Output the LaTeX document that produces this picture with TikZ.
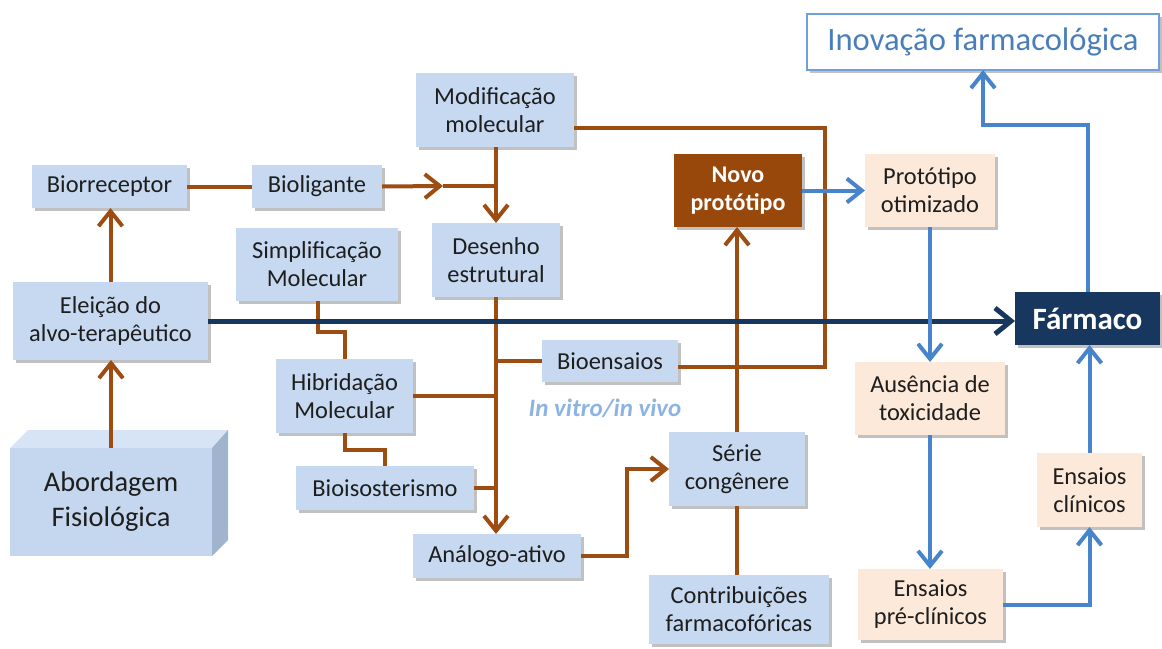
\documentclass[tikz,border=0pt]{standalone}
\usepackage{fontspec}
\setmainfont{Carlito}
\usetikzlibrary{arrows.meta,fit,calc,shadows}
\definecolor{boxblue}{RGB}{198,217,241}
\definecolor{peach}{RGB}{253,233,217}
\definecolor{brline}{RGB}{157,76,18}
\definecolor{novofill}{RGB}{152,72,10}
\definecolor{navy}{RGB}{23,55,94}
\definecolor{blline}{RGB}{72,132,204}
\definecolor{inovblue}{RGB}{74,126,187}
\definecolor{inovborder}{RGB}{110,160,220}
\definecolor{vitro}{RGB}{141,179,226}
\definecolor{txt}{RGB}{30,30,30}
\definecolor{abfront}{RGB}{197,215,238}
\definecolor{abtop}{RGB}{214,228,246}
\definecolor{abside}{RGB}{160,180,206}
\tikzset{
  box/.style={inner sep=0pt, outer sep=0pt, align=center, text=txt,
    font=\fontsize{12}{14}\selectfont,
    drop shadow={shadow xshift=1.5pt, shadow yshift=-1.5pt, opacity=0.35, fill=black!70}},
  lbl/.style={inner sep=0pt, outer sep=0pt, align=center, text=txt,
    font=\fontsize{12.2}{14}\selectfont},
  bluebox/.style={box, fill=boxblue},
  peachbox/.style={box, fill=peach},
  bline/.style={draw=brline, line width=2pt},
  barrow/.style={bline, -{Straight Barb[length=7.5pt, width=12pt]}},
  blarrow/.style={draw=blline, line width=2pt, -{Straight Barb[length=7.5pt, width=12pt]}},
  navyarrow/.style={draw=navy, line width=2.5pt, -{Straight Barb[length=8pt, width=13pt]}}
}
\begin{document}
\begin{tikzpicture}[x=0.5pt, y=-0.5pt]
\useasboundingbox (0,0) rectangle (1162,648);

% Abordagem 3D block
\fill[abtop] (10,448) -- (28,430) -- (228,430) -- (212,448) -- cycle;
\fill[abside] (212,448) -- (228,430) -- (228,540) -- (212,556) -- cycle;
\node[fill=abfront, inner sep=0pt, outer sep=0pt, fit={(10,448) (212,556)}] (abord) {};
\node[lbl, font=\fontsize{14.2}{17.5}\selectfont] (abordt) at (abord.center) {Abordagem\\Fisiológica};

% Blue boxes
\node[bluebox, fit={(32,165) (187,208)}] (biorr) {};
\node[lbl] (biorrt) at (biorr.center) {Biorreceptor};
\node[bluebox, fit={(252,165) (382,208)}] (bioli) {};
\node[lbl] (biolit) at (bioli.center) {Bioligante};
\node[bluebox, fit={(236,228) (398,301)}] (simpl) {};
\node[lbl] (simplt) at (simpl.center) {Simplificação\\Molecular};
\node[bluebox, fit={(13,282) (208,360)}] (eleic) {};
\node[lbl] (eleict) at (eleic.center) {Eleição do\\alvo-terapêutico};
\node[bluebox, fit={(416,73) (574,147)}] (modif) {};
\node[lbl] (modift) at (modif.center) {Modificação\\molecular};
\node[bluebox, fit={(432,223) (560,297)}] (desen) {};
\node[lbl] (desent) at (desen.center) {Desenho\\estrutural};
\node[bluebox, fit={(542,340) (678,382)}] (bioen) {};
\node[lbl] (bioent) at (bioen.center) {Bioensaios};
\node[bluebox, fit={(276,359) (413,433)}] (hibri) {};
\node[lbl] (hibrit) at (hibri.center) {Hibridação\\Molecular};
\node[bluebox, fit={(296,466) (474,510)}] (bioiso) {};
\node[lbl] (bioisot) at (bioiso.center) {Bioisosterismo};
\node[bluebox, fit={(413,534) (581,578)}] (analo) {};
\node[lbl] (analot) at (analo.center) {Análogo-ativo};
\node[bluebox, fit={(669,432) (805,506)}] (serie) {};
\node[lbl] (seriet) at (serie.center) {Série\\congênere};
\node[bluebox, fit={(649,575) (829,644)}] (contr) {};
\node[lbl] (contrt) at (contr.center) {Contribuições\\farmacofóricas};

% Novo protótipo
\node[box, fill=novofill, fit={(674,154) (802,227)}] (novo) {};
\node[lbl, text=white, font=\fontsize{12}{14}\selectfont\bfseries] (novot) at (novo.center) {Novo\\protótipo};

% Peach boxes
\node[peachbox, fit={(865,154) (995,227)}] (proto) {};
\node[lbl] (protot) at (proto.center) {Protótipo\\otimizado};
\node[peachbox, fit={(855,362) (1005,435)}] (ausen) {};
\node[lbl] (ausent) at (ausen.center) {Ausência de\\toxicidade};
\node[peachbox, fit={(858,569) (1003,640)}] (prec) {};
\node[lbl] (prect) at (prec.center) {Ensaios\\pré-clínicos};
\node[peachbox, fit={(1037,453) (1142,527)}] (clin) {};
\node[lbl] (clint) at (clin.center) {Ensaios\\clínicos};

% Fármaco and Inovação
\node[box, fill=navy, fit={(1015,292) (1160,345)}] (farm) {};
\node[lbl, text=white, font=\fontsize{15.5}{18}\selectfont\bfseries] (farmt) at (farm.center) {Fármaco};
\node[box, fill=white, draw=inovborder, line width=0.8pt, fit={(807,14) (1159,70)}] (inov) {};
\node[lbl, text=inovblue, font=\fontsize{16.3}{19}\selectfont] (inovt) at (inov.center) {Inovação farmacológica};

% In vitro label
\node[text=vitro, font=\fontsize{12.5}{15}\selectfont\bfseries\itshape] (vitro) at (605,408) {In vitro/in vivo};

% Coordinates
\coordinate (vx) at (496,0);
\coordinate (mA) at (443,186);
\coordinate (loopc) at (825,128);
\coordinate (ac) at (627,556);
\coordinate (fc) at (1088,125);

% Brown connectors
\draw[barrow] (abord.north) -- (abord.north |- eleic.south);
\draw[barrow] (eleic.north) -- (eleic.north |- biorr.south);
\draw[bline] (biorr.east) -- (bioli.west);
\draw[barrow] (bioli.east) -- (mA);
\draw[bline] (mA) -- (mA -| vx);
\draw[barrow] (modif.south -| vx) -- (desen.north -| vx);
\draw[barrow] (desen.south -| vx) -- (analo.north -| vx);
\draw[bline] (bioen.west) -- (bioen.west -| vx);
\draw[bline] (hibri.east) -- (hibri.east -| vx);
\draw[bline] (bioiso.east) -- (bioiso.east -| vx);
\draw[bline] ($(simpl.south west)+(82,0)$) -- ++(0,31) -| ($(hibri.north west)+(69,0)$);
\draw[bline] ($(hibri.south west)+(69,0)$) -- ++(0,17) -| ($(bioiso.north west)+(89,0)$);
\draw[bline] ($(modif.south east)+(0,-19)$) -- (loopc) |- ($(bioen.south east)+(0,-15)$);
\draw[barrow] (serie.north) -- (serie.north |- novo.south);
\draw[bline] (contr.north -| serie.south) -- (serie.south);
\draw[barrow] (analo.east) -- (ac) |- (serie.west);

% Navy connector
\draw[navyarrow] (eleic.east) -- (eleic.east -| farm.west);

% Blue connectors
\draw[blarrow] (novo.east) -- (proto.west);
\draw[blarrow] (proto.south) -- (proto.south |- ausen.north);
\draw[blarrow] (ausen.south -| proto.south) -- (prec.north -| proto.south);
\draw[blarrow] (prec.east) -| (clin.south);
\draw[blarrow] (clin.north) -- (clin.north |- farm.south);
\draw[blarrow] (farm.north -| fc) -- (fc) -| (inov.south);
\end{tikzpicture}
\end{document}
